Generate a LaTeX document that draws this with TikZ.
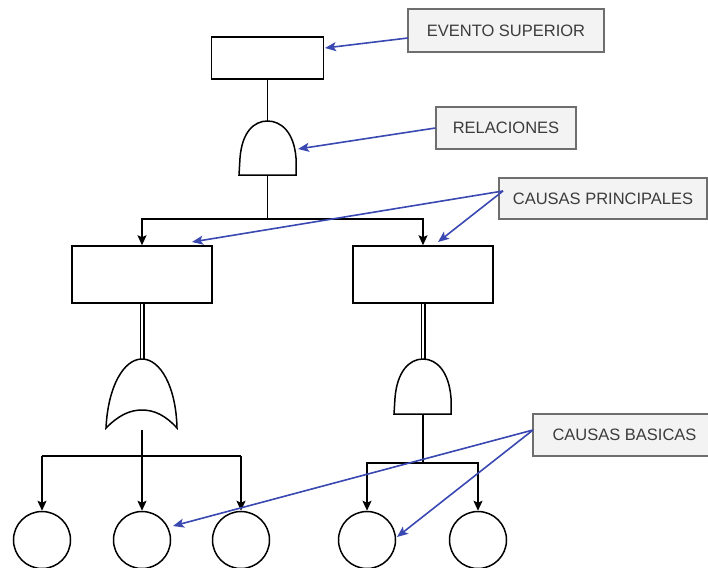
\documentclass[tikz,border=0pt]{standalone}
\usepackage{fontspec}
\setmainfont{Liberation Sans}
\usetikzlibrary{arrows.meta,calc}
\definecolor{callout}{RGB}{58,72,178}
\definecolor{notefill}{RGB}{243,243,243}
\definecolor{noteline}{RGB}{110,110,110}
\definecolor{notetext}{RGB}{60,60,60}
\tikzset{
  treeline/.style={draw=black, line width=1.5pt},
  eventbox/.style={draw=black, line width=1.5pt, fill=white, rectangle, inner sep=0pt},
  basic/.style={draw=black, line width=1.5pt, fill=white, circle, minimum size=57pt, inner sep=0pt},
  gateshape/.style={draw=black, line width=1.5pt, fill=white},
  down/.style={treeline, -{Stealth[length=10pt, width=9pt, inset=2pt]}},
  transfer/.style={draw=black, line width=1.1pt, double=white, double distance=2.8pt},
  note/.style={draw=noteline, line width=1.1pt, fill=notefill, rectangle, inner sep=0pt,
    text=notetext, font=\fontsize{16.5}{18}\selectfont},
  pointer/.style={draw=callout, line width=1.6pt, -{Stealth[length=11pt, width=9pt, inset=2.5pt]}}
}
\begin{document}
\begin{tikzpicture}[x=1pt, y=-1pt]
\useasboundingbox (0,0) rectangle (708,567);
\clip (0,0) rectangle (708,567);

% top event and main AND gate
\node[eventbox, minimum width=112pt, minimum height=42pt] (top) at (267.5,58) {};
\coordinate (g1in) at (267.5,121);
\coordinate (g1out) at (267.5,175);
\draw[treeline] (top.south) -- (g1in);
\path[gateshape] (239,175) -- (240,158) .. controls (242,132) and (254,121) .. (g1in)
  .. controls (281,121) and (294,132) .. (296,158) -- (296,175) -- cycle;

% intermediate events
\node[eventbox, minimum width=140pt, minimum height=57pt] (left) at (142,274.5) {};
\node[eventbox, minimum width=140pt, minimum height=57pt] (right) at (423,274.5) {};
\coordinate (split1) at (267.5,219);
\draw[treeline] (g1out) -- (split1);
\draw[down] (split1) -| (left.north);
\draw[down] (split1) -| (right.north);

% OR gate under the left event
\coordinate (orin) at (142,359);
\coordinate (orout) at (142,430);
\draw[transfer] (left.south) -- (orin);
\path[gateshape] (106,428) .. controls (108,386) and (124,359) .. (orin)
  .. controls (160,359) and (176,386) .. (177,428)
  .. controls (166,416) and (155,410) .. (142,410)
  .. controls (129,410) and (118,416) .. (106,428) -- cycle;

% AND gate under the right event
\coordinate (andin) at (423,359);
\coordinate (andout) at (423,414);
\draw[transfer] (right.south) -- (andin);
\path[gateshape] (394,414) -- (395,398) .. controls (397,372) and (409,359) .. (andin)
  .. controls (437,359) and (449,372) .. (451,398) -- (451,414) -- cycle;

% basic events
\node[basic] (b1) at (42,540) {};
\node[basic] (b2) at (142,540) {};
\node[basic] (b3) at (241,540) {};
\node[basic] (b4) at (367,540) {};
\node[basic] (b5) at (478,540) {};

\coordinate (split2) at (142,456);
\coordinate (split3) at (423,463);
\draw[down] (orout) -- (b2.north);
\draw[treeline] (b1.north |- split2) -- (b3.north |- split2);
\draw[down] (split2 -| b1.north) -- (b1.north);
\draw[down] (split2 -| b3.north) -- (b3.north);
\draw[treeline] (andout) -- (split3);
\draw[down] (split3) -| (b4.north);
\draw[down] (split3) -| (b5.north);

% callout labels
\node[note, minimum width=196pt, minimum height=43pt] (ev) at (506,30.5) {EVENTO SUPERIOR};
\node[note, minimum width=140pt, minimum height=42pt] (rel) at (506,128) {RELACIONES};
\node[note, minimum width=208pt, minimum height=41pt] (cp) at (603,198.5) {CAUSAS PRINCIPALES};
\node[note, minimum width=183pt, minimum height=42pt] (cb) at (624.5,435) {CAUSAS BASICAS};

% callout pointers
\coordinate (evfrom) at (408,38);
\coordinate (evto) at (325,48);
\coordinate (relto) at (298,149);
\coordinate (cpfrom) at (503,191);
\coordinate (cpto1) at (192,242);
\coordinate (cpto2) at (438,242);
\coordinate (cbfrom) at (533,430);
\coordinate (cbto1) at (173,526);
\coordinate (cbto2) at (397,537);
\draw[pointer] (evfrom) -- (evto);
\draw[pointer] (rel.west) -- (relto);
\draw[pointer] (cpfrom) -- (cpto1);
\draw[pointer] (cpfrom) -- (cpto2);
\draw[pointer] (cbfrom) -- (cbto1);
\draw[pointer] (cbfrom) -- (cbto2);
\end{tikzpicture}
\end{document}
